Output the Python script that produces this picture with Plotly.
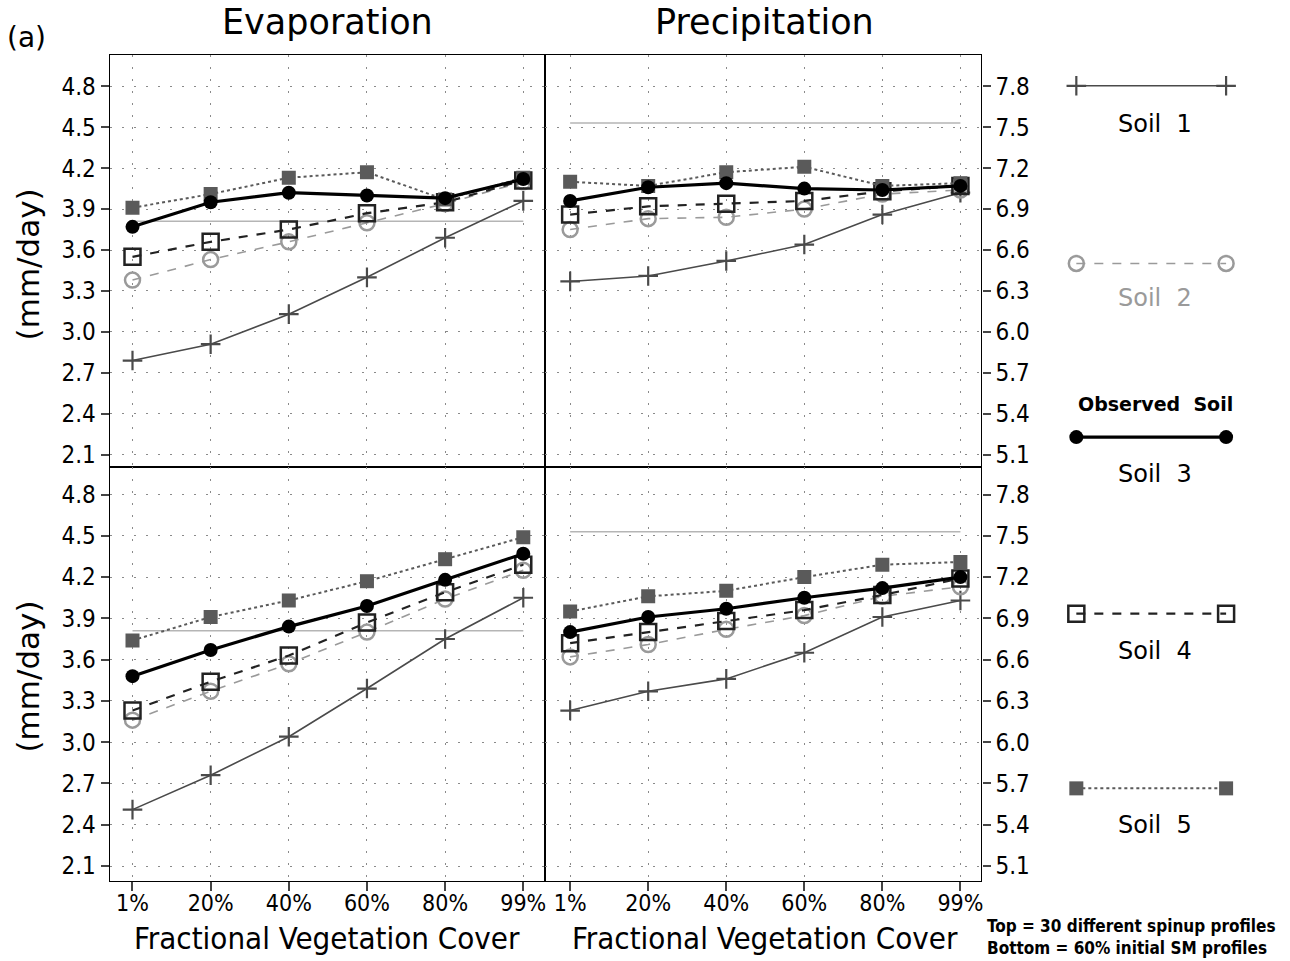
import plotly.graph_objects as go

# ---------------- data ----------------
categories = ["1%", "20%", "40%", "60%", "80%", "99%"]
cat_pos = [0, 1, 2, 3, 4, 5]

soil_names = ["Soil  1", "Soil  2", "Soil  3", "Soil  4", "Soil  5"]

# Top row: 30 different spinup profiles
evap_top_soil1 = [2.79, 2.91, 3.13, 3.40, 3.69, 3.96]
evap_top_soil2 = [3.38, 3.53, 3.66, 3.80, 3.94, 4.10]
evap_top_soil3 = [3.77, 3.95, 4.02, 4.00, 3.98, 4.12]
evap_top_soil4 = [3.55, 3.66, 3.75, 3.87, 3.95, 4.11]
evap_top_soil5 = [3.91, 4.01, 4.13, 4.17, 3.97, 4.13]

precip_top_soil1 = [6.37, 6.41, 6.52, 6.64, 6.86, 7.02]
precip_top_soil2 = [6.75, 6.83, 6.84, 6.90, 7.01, 7.04]
precip_top_soil3 = [6.96, 7.06, 7.09, 7.05, 7.04, 7.07]
precip_top_soil4 = [6.86, 6.92, 6.94, 6.96, 7.03, 7.07]
precip_top_soil5 = [7.10, 7.07, 7.17, 7.21, 7.07, 7.09]

# Bottom row: 60% initial SM profiles
evap_bot_soil1 = [2.51, 2.76, 3.04, 3.39, 3.75, 4.05]
evap_bot_soil2 = [3.16, 3.37, 3.57, 3.80, 4.04, 4.25]
evap_bot_soil3 = [3.48, 3.67, 3.84, 3.99, 4.18, 4.37]
evap_bot_soil4 = [3.23, 3.44, 3.63, 3.87, 4.09, 4.29]
evap_bot_soil5 = [3.74, 3.91, 4.03, 4.17, 4.33, 4.49]

precip_bot_soil1 = [6.23, 6.37, 6.46, 6.65, 6.91, 7.03]
precip_bot_soil2 = [6.62, 6.71, 6.82, 6.92, 7.06, 7.13]
precip_bot_soil3 = [6.80, 6.91, 6.97, 7.05, 7.12, 7.20]
precip_bot_soil4 = [6.72, 6.80, 6.88, 6.96, 7.07, 7.19]
precip_bot_soil5 = [6.95, 7.06, 7.10, 7.20, 7.29, 7.31]

# grey reference levels
ref_evap = [3.81] * 6
ref_precip = [7.53] * 6

evap_ticks = [2.1, 2.4, 2.7, 3.0, 3.3, 3.6, 3.9, 4.2, 4.5, 4.8]
precip_ticks = [5.1, 5.4, 5.7, 6.0, 6.3, 6.6, 6.9, 7.2, 7.5, 7.8]

# ---------------- styles ----------------
styles = [
    dict(line=dict(color="#4a4a4a", width=1.6),
         marker=dict(symbol="cross-thin", size=14, color="#4a4a4a", line=dict(color="#4a4a4a", width=2.2))),
    dict(line=dict(color="#9a9a9a", width=1.6, dash="dash"),
         marker=dict(symbol="circle-open", size=15, color="#9a9a9a", line=dict(color="#9a9a9a", width=2.5))),
    dict(line=dict(color="#000000", width=3.2),
         marker=dict(symbol="circle", size=14, color="#000000")),
    dict(line=dict(color="#222222", width=2.2, dash="dash"),
         marker=dict(symbol="square-open", size=16, color="#222222", line=dict(color="#222222", width=2.5))),
    dict(line=dict(color="#5a5a5a", width=2, dash="dot"),
         marker=dict(symbol="square", size=14, color="#5a5a5a")),
]
draw_order = [0, 1, 3, 4, 2]

FONT = "DejaVu Sans Condensed, DejaVu Sans, sans-serif"
fig = go.Figure()

panels = [
    ("x", "y", [evap_top_soil1, evap_top_soil2, evap_top_soil3, evap_top_soil4, evap_top_soil5], ref_evap),
    ("x2", "y2", [precip_top_soil1, precip_top_soil2, precip_top_soil3, precip_top_soil4, precip_top_soil5], ref_precip),
    ("x3", "y3", [evap_bot_soil1, evap_bot_soil2, evap_bot_soil3, evap_bot_soil4, evap_bot_soil5], ref_evap),
    ("x4", "y4", [precip_bot_soil1, precip_bot_soil2, precip_bot_soil3, precip_bot_soil4, precip_bot_soil5], ref_precip),
]

for xa, ya, series, ref in panels:
    fig.add_trace(go.Scatter(x=cat_pos, y=ref, mode="lines", xaxis=xa, yaxis=ya,
                             line=dict(color="#b5b5b5", width=1.5), showlegend=False, hoverinfo="skip"))
    for i in draw_order:
        st = styles[i]
        fig.add_trace(go.Scatter(x=cat_pos, y=series[i], mode="lines+markers", xaxis=xa, yaxis=ya,
                                 name=soil_names[i], line=st["line"], marker=st["marker"], showlegend=False))

# ---------------- legend (drawn in a pixel-mapped overlay axis) ----------------
leg_line_y = [86, 264, 438, 615, 790]
leg_text_y = [124, 299, 475, 652, 827]
leg_x = [1078, 1228]
for i in range(5):
    st = styles[i]
    fig.add_trace(go.Scatter(x=leg_x, y=[leg_line_y[i]] * 2, mode="lines+markers", xaxis="x5", yaxis="y5",
                             line=st["line"], marker=st["marker"], showlegend=False, hoverinfo="skip"))

axis_common = dict(showline=True, linecolor="black", linewidth=1.4, mirror=True, zeroline=False,
                   showgrid=True, gridcolor="#8a8a8a", griddash="2px,10px", gridwidth=1)

xl = [0.08527, 0.42326]
xr = [0.42326, 0.76202]
yt = [0.51301, 0.94277]
yb = [0.08117, 0.51301]

xrange_l = [-0.29, 5.28]
xrange_r = [-0.32, 5.27]

xtick_kw = dict(ticks="outside", ticklen=9, tickwidth=2, ticklabelstandoff=-8,
                tickfont=dict(size=23, family=FONT))
ytick_kw = dict(ticks="outside", ticklen=8, tickwidth=2, tickfont=dict(size=24, family=FONT))

fig.update_layout(
    width=1290, height=961,
    margin=dict(l=0, r=0, t=0, b=0),
    paper_bgcolor="white", plot_bgcolor="rgba(0,0,0,0)",
    font=dict(family=FONT, color="black"),
    showlegend=False,
    xaxis=dict(domain=xl, anchor="y", range=xrange_l, tickvals=cat_pos, ticktext=categories,
               showticklabels=False, ticks="", **axis_common),
    yaxis=dict(domain=yt, anchor="x", range=[2.01, 5.03], tickvals=evap_ticks,
               ticktext=[f"{v:.1f}" for v in evap_ticks], **ytick_kw, **axis_common),
    xaxis2=dict(domain=xr, anchor="y2", range=xrange_r, tickvals=cat_pos, ticktext=categories,
                showticklabels=False, ticks="", **axis_common),
    yaxis2=dict(domain=yt, anchor="x2", side="right", range=[5.01, 8.03], tickvals=precip_ticks,
                ticktext=[f"{v:.1f}" for v in precip_ticks], **ytick_kw, **axis_common),
    xaxis3=dict(domain=xl, anchor="y3", range=xrange_l, tickvals=cat_pos, ticktext=categories,
                **xtick_kw, **axis_common),
    yaxis3=dict(domain=yb, anchor="x3", range=[1.99, 5.0], tickvals=evap_ticks,
                ticktext=[f"{v:.1f}" for v in evap_ticks], **ytick_kw, **axis_common),
    xaxis4=dict(domain=xr, anchor="y4", range=xrange_r, tickvals=cat_pos, ticktext=categories,
                **xtick_kw, **axis_common),
    yaxis4=dict(domain=yb, anchor="x4", side="right", range=[4.99, 8.0], tickvals=precip_ticks,
                ticktext=[f"{v:.1f}" for v in precip_ticks], **ytick_kw, **axis_common),
    xaxis5=dict(domain=[0, 1], anchor="y5", range=[0, 1290], visible=False, fixedrange=True),
    yaxis5=dict(domain=[0, 1], anchor="x5", range=[961, 0], visible=False, fixedrange=True),
)

annotations = [
    dict(text="(a)", x=5 / 1290, y=1 - 38 / 961, xanchor="left", yanchor="middle", font=dict(size=28, family="DejaVu Sans, sans-serif")),
    dict(text="Evaporation", x=328 / 1290, y=1 - 22 / 961, xanchor="center", yanchor="middle", font=dict(size=35, family="DejaVu Sans, sans-serif")),
    dict(text="Precipitation", x=766 / 1290, y=1 - 22 / 961, xanchor="center", yanchor="middle", font=dict(size=35, family="DejaVu Sans, sans-serif")),
    dict(text="(mm/day)", x=28 / 1290, y=1 - 265 / 961, xanchor="center", yanchor="middle", textangle=-90, font=dict(size=31, family="DejaVu Sans, sans-serif")),
    dict(text="(mm/day)", x=28 / 1290, y=1 - 678 / 961, xanchor="center", yanchor="middle", textangle=-90, font=dict(size=31, family="DejaVu Sans, sans-serif")),
    dict(text="Fractional Vegetation Cover", x=328 / 1290, y=1 - 940 / 961, xanchor="center", yanchor="middle", font=dict(size=31, family=FONT)),
    dict(text="Fractional Vegetation Cover", x=766 / 1290, y=1 - 940 / 961, xanchor="center", yanchor="middle", font=dict(size=31, family=FONT)),
    dict(text="<b>Top = 30 different spinup profiles</b>", x=987 / 1290, y=1 - 928 / 961, xanchor="left", yanchor="middle", font=dict(size=17, family="Liberation Sans Narrow, DejaVu Sans Condensed, sans-serif")),
    dict(text="<b>Bottom = 60% initial SM profiles</b>", x=987 / 1290, y=1 - 950 / 961, xanchor="left", yanchor="middle", font=dict(size=17, family="Liberation Sans Narrow, DejaVu Sans Condensed, sans-serif")),
    dict(text="<b>Observed  Soil</b>", x=1157 / 1290, y=1 - 405 / 961, xanchor="center", yanchor="middle", font=dict(size=19, family="DejaVu Sans, sans-serif")),
]
leg_colors = ["black", "#9a9a9a", "black", "black", "black"]
for i in range(5):
    annotations.append(dict(text=soil_names[i], x=1157 / 1290, y=1 - leg_text_y[i] / 961, xanchor="center", yanchor="middle",
                            font=dict(size=24, family="DejaVu Sans, sans-serif", color=leg_colors[i])))
for a in annotations:
    a.update(xref="paper", yref="paper", showarrow=False)
fig.update_layout(annotations=annotations)

fig.write_html("out.html")
